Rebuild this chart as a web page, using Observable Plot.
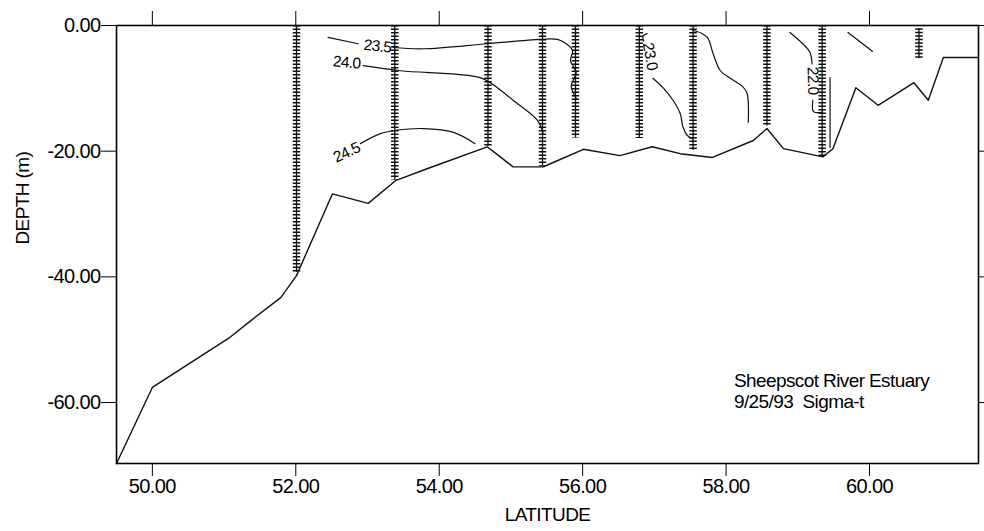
<!DOCTYPE html>
<html>
<head>
<meta charset="utf-8">
<script src="https://cdn.jsdelivr.net/npm/d3@7"></script>
<script src="https://cdn.jsdelivr.net/npm/@observablehq/plot@0.6"></script>
<style>
  html, body { margin: 0; padding: 0; background: #fff; }
  #chart svg { display: block; }
</style>
</head>
<body>
<div id="chart"></div>
<script>
// ---- Data ----
const xTicks = [50, 52, 54, 56, 58, 60];
const yTicks = [0, -20, -40, -60];

// Bottom profile (latitude, depth m)
const bottomLat   = [49.5, 50.0, 51.06, 51.37, 51.79, 52.01, 52.51, 53.01, 53.39, 53.83, 54.67, 55.03, 55.45, 55.55, 56.01, 56.52, 56.97, 57.36, 57.81, 58.38, 58.57, 58.80, 59.35, 59.49, 59.81, 60.12, 60.62, 60.82, 61.03, 61.52];
const bottomDepth = [-69.7, -57.6, -49.8, -47.0, -43.3, -39.8, -26.8, -28.3, -24.7, -22.8, -19.3, -22.5, -22.5, -22.0, -19.7, -20.7, -19.3, -20.4, -21.0, -18.3, -16.4, -19.6, -20.9, -19.6, -9.9, -12.7, -9.1, -11.9, -5.1, -5.1];

// CTD stations (sample columns)
const stationLat    = [52.01, 53.38, 54.68, 55.44, 55.90, 56.79, 57.54, 58.57, 59.34, 60.69];
const stationTop    = [0, 0, 0, 0, 0, 0, 0, 0, 0, -0.5];
const stationBottom = [-39.3, -24.6, -19.2, -22.4, -17.9, -18.0, -19.9, -16.0, -21.0, -5.3];

// Sigma-t contour segments [lat, depth]
const c235a = [[52.45, -1.9], [52.87, -2.9]];
const c235b = [[53.36, -3.5], [53.78, -3.7], [54.67, -2.9], [55.41, -2.2], [55.65, -2.2], [55.77, -2.9], [55.86, -4.0], [55.83, -5.6], [55.91, -7.5], [55.84, -9.6], [55.91, -11.6]];
const c240  = [[52.94, -6.4], [53.46, -7.2], [54.57, -8.3], [54.81, -9.9], [55.03, -11.9], [55.37, -15.1], [55.45, -17.2]];
const c245  = [[52.90, -18.8], [53.18, -17.2], [53.39, -16.7], [53.78, -16.4], [54.20, -17.0], [54.50, -18.8]];
const c230a = [[56.90, -1.3], [56.84, -1.75], [56.85, -2.5]];
const c230b = [[56.98, -8.4], [57.12, -9.9], [57.26, -11.9], [57.36, -14.0], [57.40, -16.2], [57.46, -17.5], [57.53, -18.0]];
const c225  = [[57.54, -0.8], [57.67, -1.3], [57.75, -2.1], [57.82, -4.5], [57.92, -7.2], [58.06, -8.4], [58.22, -9.6], [58.29, -10.7], [58.31, -15.4]];
const c220a = [[58.89, -1.1], [59.07, -2.9], [59.17, -4.3], [59.20, -6.1]];
const c220b = [[59.21, -11.9], [59.22, -13.7], [59.35, -13.8]];
const c220c = [[59.45, -8.3], [59.45, -19.4]];
const c215  = [[59.70, -1.1], [60.04, -4.1]];

// Contour labels
const labelText  = ["23.5", "24.0", "24.5", "23.0", "22.0"];
const labelLat   = [53.14, 52.71, 52.71, 56.94, 59.21];
const labelDepth = [-3.3, -5.9, -20.2, -4.9, -8.8];
const labelAngle = [6, 5, -25, 80, 88];

const noteLat = 58.11;
const noteDepth = -58.1;
const noteText = "Sheepscot River Estuary\n9/25/93 \u00a0Sigma-t";

// ---- Tables built from the arrays ----
const bottom = bottomLat.map((x, i) => ({lat: x, depth: bottomDepth[i]}));
const stations = stationLat.map((x, i) => ({lat: x, top: stationTop[i], bottom: stationBottom[i]}));
const segments = {c235a, c235b, c240, c245, c230a, c230b, c225, c220a, c220b, c220c, c215};
const contours = Object.entries(segments).flatMap(([k, pts]) => pts.map(([lat, depth]) => ({seg: k, lat, depth})));
const labels = labelText.map((t, i) => ({text: t, lat: labelLat[i], depth: labelDepth[i], angle: labelAngle[i]}));

const font = "'Liberation Sans', Arial, Helvetica, sans-serif";

const chart = Plot.plot({
  width: 984,
  height: 531,
  marginLeft: 116,
  marginRight: 6,
  marginTop: 25,
  marginBottom: 68,
  x: {domain: [49.5, 61.52]},
  y: {domain: [-69.7, 0]},
  style: {fontFamily: font, fontSize: "20px", color: "#000", background: "#fff", letterSpacing: "-0.6px"},
  marks: [
    // stations: hashed sample columns
    Plot.ruleX(stations, {x: "lat", y1: "top", y2: "bottom", stroke: "#111", strokeWidth: 7.5, strokeDasharray: "1.5,2"}),
    Plot.ruleX(stations, {x: "lat", y1: "top", y2: "bottom", stroke: "#111", strokeWidth: 1.3}),
    // contours
    Plot.line(contours, {x: "lat", y: "depth", z: "seg", stroke: "#111", strokeWidth: 1.2, curve: "catmull-rom"}),
    Plot.text(labels, {x: "lat", y: "depth", text: "text", rotate: "angle", fontSize: 15.5, fill: "#000", fontFamily: font, letterSpacing: "-0.3px"}),
    // bottom profile
    Plot.line(bottom, {x: "lat", y: "depth", stroke: "#111", strokeWidth: 1.4}),
    // annotation
    Plot.text([noteText], {x: noteLat, y: noteDepth, text: d => d, textAnchor: "start", lineHeight: 1.12, fontSize: 19, fill: "#000"}),
    // axes
    Plot.axisX({ticks: xTicks, tickFormat: d => d.toFixed(2), tickSize: 13, tickPadding: 2, label: null, fontSize: 20}),
    Plot.axisX({anchor: "top", ticks: xTicks, tickFormat: () => "", tickSize: 15, label: null}),
    Plot.axisY({ticks: yTicks, tickFormat: d => d.toFixed(2), tickSize: 15, tickPadding: 1, label: null, fontSize: 20}),
    Plot.axisY({anchor: "right", ticks: yTicks, tickFormat: () => "", tickSize: 6, label: null}),
    Plot.frame({stroke: "#000", strokeWidth: 1.6}),
    // axis titles
    Plot.text(["LATITUDE"], {frameAnchor: "bottom", dy: 57, text: d => d, fontSize: 19, fill: "#000"}),
    Plot.text(["DEPTH (m)"], {frameAnchor: "left", dx: -94, rotate: -90, text: d => d, fontSize: 19, fill: "#000"})
  ]
});
document.getElementById("chart").appendChild(chart);
</script>
</body>
</html>
